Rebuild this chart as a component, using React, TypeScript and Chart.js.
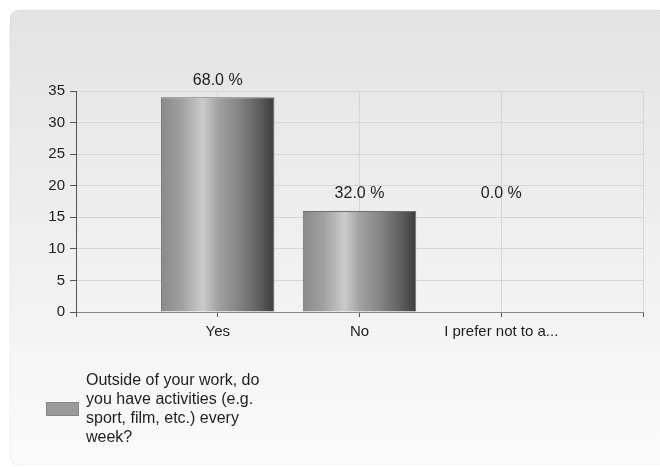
import React, { useEffect, useRef } from "react";
import { Chart, registerables } from "chart.js";

Chart.register(...registerables);

const categories = ["Yes", "No", "I prefer not to a..."];
const counts = [34, 16, 0];
const percentLabels = ["68.0 %", "32.0 %", "0.0 %"];
const seriesLabel =
  "Outside of your work, do you have activities (e.g. sport, film, etc.) every week?";
const yMin = 0;
const yMax = 35;
const yStep = 5;

const FONT = "'Liberation Sans', Arial, sans-serif";

export default function App() {
  const ref = useRef<HTMLCanvasElement | null>(null);

  useEffect(() => {
    const canvas = ref.current;
    if (!canvas) return;

    const labels = ["", ...categories, ""];
    const data = [null, ...counts, null];

    const panelPlugin = {
      id: "panel",
      beforeDraw(chart: any) {
        const c = chart.ctx;
        c.save();
        c.fillStyle = "#ffffff";
        c.fillRect(0, 0, chart.width, chart.height);
        const x0 = 10, y0 = 10, x1 = chart.width + 12, y1 = 465, r = 10;
        const g = c.createLinearGradient(0, y0, 0, y1);
        g.addColorStop(0, "#e3e3e3");
        g.addColorStop(0.5, "#efefef");
        g.addColorStop(1, "#fbfbfb");
        c.beginPath();
        c.moveTo(x0 + r, y0);
        c.lineTo(x1, y0);
        c.lineTo(x1, y1);
        c.lineTo(x0 + r, y1);
        c.quadraticCurveTo(x0, y1, x0, y1 - r);
        c.lineTo(x0, y0 + r);
        c.quadraticCurveTo(x0, y0, x0 + r, y0);
        c.closePath();
        c.fillStyle = g;
        c.fill();
        c.strokeStyle = "rgba(0,0,0,0.05)";
        c.lineWidth = 1;
        c.stroke();
        c.restore();
      },
    };

    const labelPlugin = {
      id: "valueLabels",
      afterDatasetsDraw(chart: any) {
        const c = chart.ctx;
        const meta = chart.getDatasetMeta(0);
        c.save();
        c.font = `16px ${FONT}`;
        c.fillStyle = "#1e1e1e";
        c.textAlign = "center";
        c.textBaseline = "middle";
        let prevY = 0;
        categories.forEach((_, i) => {
          const el = meta.data[i + 1];
          if (!el) return;
          let y = el.y - 17;
          if (counts[i] === 0 && i > 0) y = prevY;
          prevY = y;
          c.fillText(percentLabels[i], el.x, y);
        });
        c.restore();
      },
    };

    const legendPlugin = {
      id: "customLegend",
      afterDraw(chart: any) {
        const c = chart.ctx;
        c.save();
        c.font = `16px ${FONT}`;
        const words = seriesLabel.split(" ");
        const lines: string[] = [];
        let cur = "";
        words.forEach((w) => {
          const t = cur ? cur + " " + w : w;
          if (c.measureText(t).width > 180 && cur) {
            lines.push(cur);
            cur = w;
          } else cur = t;
        });
        if (cur) lines.push(cur);
        const lh = 19;
        const centerY = 409.5;
        const startY = centerY - ((lines.length - 1) * lh) / 2;
        c.fillStyle = "#1e1e1e";
        c.textAlign = "left";
        c.textBaseline = "middle";
        lines.forEach((l, i) => c.fillText(l, 86, startY + i * lh));
        c.fillStyle = "#9a9a9a";
        c.fillRect(46, 402, 33, 14);
        c.strokeStyle = "#858585";
        c.lineWidth = 1;
        c.strokeRect(46.5, 402.5, 32, 13);
        c.restore();
      },
    };

    const chart = new Chart(canvas, {
      type: "bar",
      data: {
        labels,
        datasets: [
          {
            label: seriesLabel,
            data,
            barPercentage: 0.8,
            categoryPercentage: 1,
            borderWidth: 1,
            borderColor: "#6f6f6f",
            backgroundColor: (ctx: any) => {
              const ch = ctx.chart;
              const xs = ch.scales && ch.scales.x;
              if (!xs || !ch.chartArea) return "#999";
              const cx = xs.getPixelForValue(ctx.dataIndex);
              const w = 0.8 * (xs.width / (labels.length - 1));
              const g = ch.ctx.createLinearGradient(cx - w / 2, 0, cx + w / 2, 0);
              g.addColorStop(0, "#898989");
              g.addColorStop(0.18, "#a0a0a0");
              g.addColorStop(0.37, "#cbcbcb");
              g.addColorStop(0.5, "#a2a2a2");
              g.addColorStop(0.68, "#858585");
              g.addColorStop(0.85, "#626262");
              g.addColorStop(1, "#3c3c3c");
              return g;
            },
          },
        ],
      },
      options: {
        animation: false,
        responsive: false,
        maintainAspectRatio: false,
        layout: { padding: { top: 91, right: 17, left: 0, bottom: 0 } },
        plugins: {
          legend: { display: false },
          tooltip: { enabled: false },
        },
        scales: {
          x: {
            offset: false,
            grid: {
              offset: false,
              color: "#d6d6d6",
              tickColor: "#555",
              tickLength: 5,
              drawTicks: true,
            },
            border: { color: "#888", width: 1 },
            ticks: {
              color: "#1e1e1e",
              font: { family: FONT, size: 15 },
              padding: 6,
              maxRotation: 0,
              autoSkip: false,
            },
            afterFit: (s: any) => {
              s.height = 155;
            },
          },
          y: {
            min: yMin,
            max: yMax,
            grid: {
              color: "#d6d6d6",
              tickColor: "#555",
              tickLength: 6,
            },
            border: { color: "#555", width: 1 },
            ticks: {
              stepSize: yStep,
              color: "#1e1e1e",
              font: { family: FONT, size: 15 },
              padding: 5,
            },
            afterFit: (s: any) => {
              s.width = 76;
            },
          },
        },
      },
      plugins: [panelPlugin, labelPlugin, legendPlugin],
    });

    return () => chart.destroy();
  }, []);

  return (
    <div style={{ position: "absolute", left: 0, top: 0, width: 660, height: 467 }}>
      <canvas ref={ref} width={660} height={467} style={{ width: 660, height: 467 }} />
    </div>
  );
}
